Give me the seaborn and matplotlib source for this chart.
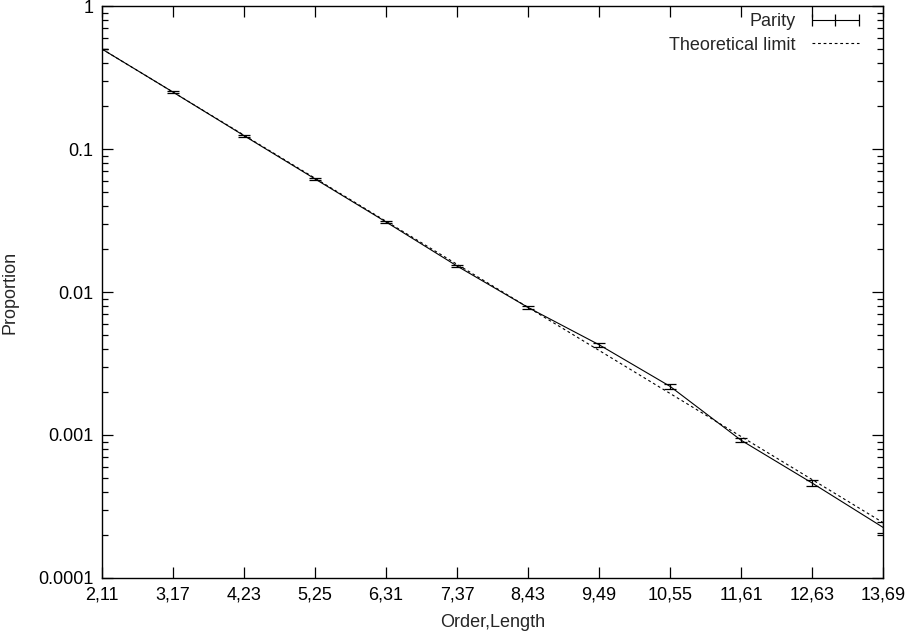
import numpy as np
import pandas as pd
import matplotlib
matplotlib.use('Agg')
import matplotlib.pyplot as plt
import seaborn as sns
from matplotlib.lines import Line2D
from matplotlib.ticker import LogLocator, NullFormatter, FixedLocator

# Dados
rotulos_x = ['2,11', '3,17', '4,23', '5,25', '6,31', '7,37', '8,43',
             '9,49', '10,55', '11,61', '12,63', '13,69']
paridade = [0.5, 0.25, 0.124, 0.0618, 0.0309, 0.0152, 0.0078,
            0.00428, 0.00219, 0.00092, 0.000462, 0.000226]
erro_paridade = [0.003, 0.004, 0.002, 0.001, 0.0006, 0.0003, 0.00016,
                 0.00013, 0.0001, 0.00003, 0.00002, 0.00002]
limite_teorico = [0.5, 0.25, 0.125, 0.0625, 0.03125, 0.015625, 0.0078125,
                  0.00390625, 0.001953125, 0.0009765625, 0.00048828125,
                  0.000244140625]

sns.set_style('ticks')
plt.rcParams['font.family'] = ['Liberation Sans', 'DejaVu Sans']

df = pd.DataFrame({'pos': np.arange(len(rotulos_x)),
                   'paridade': paridade,
                   'teorico': limite_teorico})

fig = plt.figure(figsize=(9.05, 6.33), dpi=100)
ax = fig.add_axes([0.1127, 0.0869, 0.8630, 0.9036])

ax.errorbar(df['pos'], df['paridade'], yerr=erro_paridade, fmt='-',
            color='black', lw=0.8, elinewidth=0.9, capsize=4, capthick=0.9)
sns.lineplot(data=df, x='pos', y='teorico', ax=ax, color='black', lw=0.8,
             linestyle=(0, (2.5, 2.5)))

ax.set_yscale('log')
ax.set_ylim(0.0001, 1)
ax.set_xlim(0, len(rotulos_x) - 1)
ax.xaxis.set_major_locator(FixedLocator(df['pos']))
ax.set_xticklabels(rotulos_x)
ax.yaxis.set_major_locator(FixedLocator([0.0001, 0.001, 0.01, 0.1, 1]))
ax.set_yticklabels(['0.0001', '0.001', '0.01', '0.1', '1'])
ax.yaxis.set_minor_locator(LogLocator(base=10, subs=np.arange(2, 10)))
ax.yaxis.set_minor_formatter(NullFormatter())

ax.tick_params(which='both', direction='in', top=True, right=True,
               labelsize=13, colors='black', width=0.9)
ax.tick_params(which='major', length=8, pad=6)
ax.tick_params(which='minor', length=4)
for s in ax.spines.values():
    s.set_linewidth(1.0)
    s.set_color('black')

ax.set_xlabel('Order,Length', fontsize=13, labelpad=8)
ax.set_ylabel('Proportion', fontsize=13, labelpad=14)

# legenda no estilo gnuplot
h_par = Line2D([], [], color='black', lw=0.8, marker='|', markersize=9,
               markeredgewidth=0.9)
h_teo = Line2D([], [], color='black', lw=0.8, linestyle=(0, (2.5, 2.5)))
ax.legend([h_par, h_teo], ['Parity', 'Theoretical limit'], loc='upper right',
          bbox_to_anchor=(0.985, 1.0),
          frameon=False, markerfirst=False, fontsize=13, numpoints=3,
          handlelength=3.2, borderaxespad=0.1, borderpad=0.3,
          labelspacing=0.35, handletextpad=0.6)

fig.savefig('out.png', dpi=100)
